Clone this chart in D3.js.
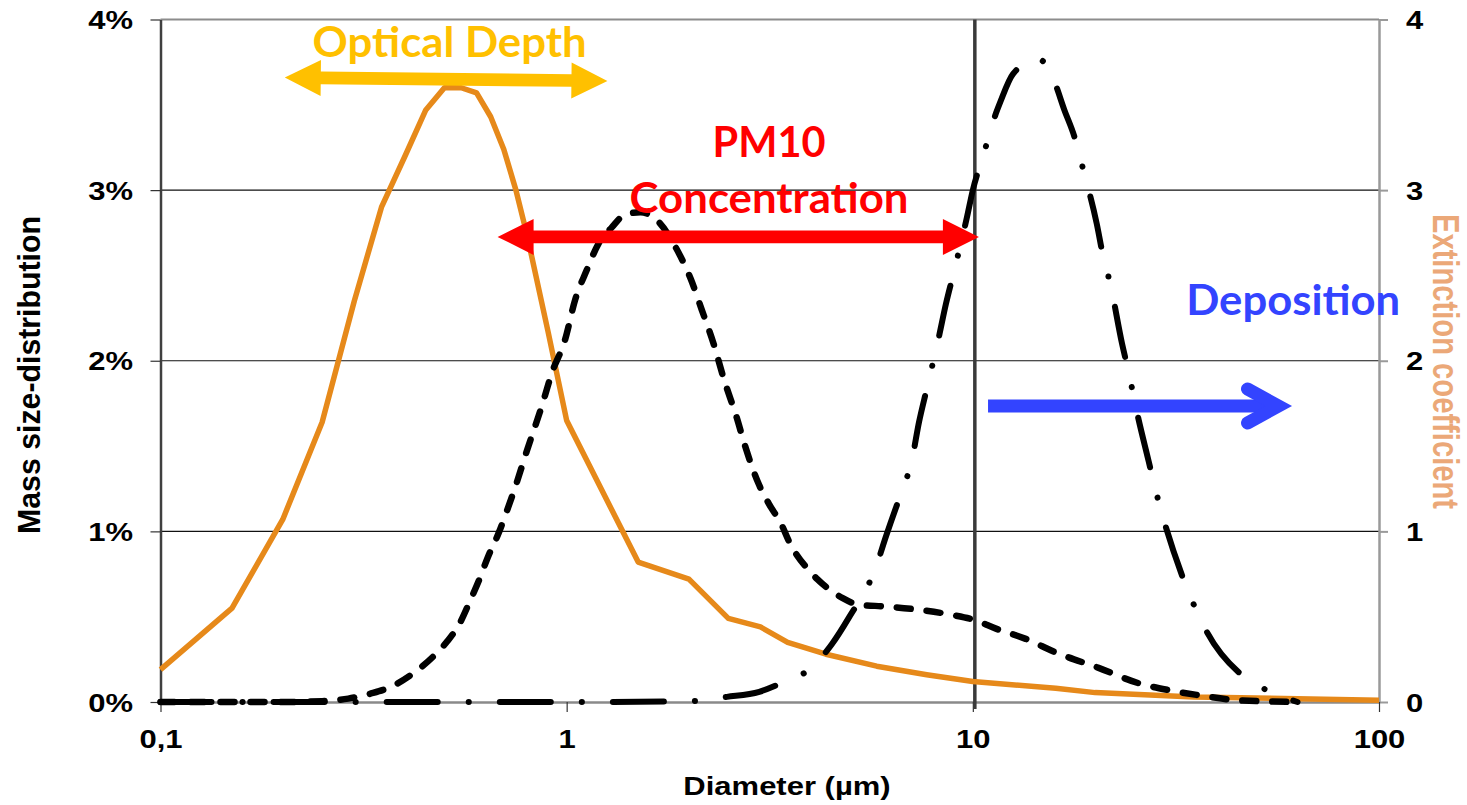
<!DOCTYPE html>
<html>
<head>
<meta charset="utf-8">
<script src="https://cdn.jsdelivr.net/npm/d3@7"></script>
<style>
  body { margin: 0; background: #fff; }
  svg { display: block; }
</style>
</head>
<body>
<div id="chart"></div>
<script>
// Axis ticks
const xTickValues = [0.1, 1, 10, 100];
const xTickLabels = ['0,1', '1', '10', '100'];
const yTickValues = [0, 1, 2, 3, 4];
const gridValues = [1, 2, 3];

// Extinction coefficient (orange, straight segments) [diameter um, value]
const extinction = [
    [0.1, 0.19], [0.15, 0.55], [0.2, 1.07], [0.25, 1.64], [0.3, 2.35], [0.35, 2.9],
    [0.4, 3.2], [0.45, 3.47], [0.5, 3.6], [0.55, 3.6], [0.6, 3.57], [0.65, 3.43],
    [0.7, 3.24], [0.75, 3.0], [0.8, 2.73], [0.9, 2.17], [1, 1.65], [1.5, 0.82],
    [2, 0.72], [2.5, 0.49], [3, 0.44], [3.5, 0.35], [4.35, 0.28], [5.8, 0.21],
    [7.7, 0.16], [10, 0.12], [16, 0.08], [20, 0.055], [35, 0.03], [100, 0.01]
];

// Mass size-distribution, fine mode (dashed) [diameter um, %]
const massFine = [
    [0.1, 0], [0.2, 0], [0.25, 0.005], [0.29, 0.02], [0.33, 0.05], [0.37, 0.09],
    [0.42, 0.17], [0.48, 0.29], [0.51, 0.36], [0.545, 0.46], [0.58, 0.6], [0.61, 0.72],
    [0.64, 0.85], [0.68, 0.99], [0.71, 1.11], [0.74, 1.23], [0.8, 1.48], [0.87, 1.74],
    [0.92, 1.93], [0.99, 2.12], [1.05, 2.36], [1.12, 2.53], [1.2, 2.69], [1.29, 2.78],
    [1.4, 2.86], [1.52, 2.87], [1.69, 2.81], [1.85, 2.67], [2.02, 2.48], [2.15, 2.3],
    [2.3, 2.1], [2.44, 1.89], [2.62, 1.67], [2.75, 1.5], [2.98, 1.27], [3.15, 1.16],
    [3.38, 1.04], [3.53, 0.94], [3.69, 0.86], [3.89, 0.79], [4.14, 0.72], [4.43, 0.66],
    [4.77, 0.61], [5.25, 0.57], [6.1, 0.56], [7.4, 0.54], [8.9, 0.51], [10.1, 0.48],
    [11.4, 0.43], [13.5, 0.37], [16, 0.29], [20.4, 0.2], [25.6, 0.11], [30.3, 0.07],
    [36, 0.04], [45, 0.01], [63, 0]
];

// Mass size-distribution, coarse mode (dash-dot) [diameter um, %]
const massCoarse = [
    [0.1, 0], [0.5, 0], [1, 0], [2, 0.005], [2.48, 0.03], [2.98, 0.06], [3.37, 0.11],
    [4.0, 0.2], [4.5, 0.34], [4.94, 0.49], [5.77, 0.79], [6.11, 0.97], [6.47, 1.14],
    [6.85, 1.3], [7.08, 1.42], [7.37, 1.64], [7.71, 1.84], [8.25, 2.14], [8.58, 2.33],
    [8.98, 2.52], [9.67, 2.84], [10, 3.0], [10.6, 3.2], [11.4, 3.45], [11.7, 3.52],
    [12.55, 3.68], [14.4, 3.77], [15.1, 3.74], [15.8, 3.65], [16.8, 3.47], [17.8, 3.31],
    [18.65, 3.13], [20.2, 2.8], [20.9, 2.62], [21.8, 2.45], [23.3, 2.1], [24.2, 1.93],
    [25.4, 1.69], [27.1, 1.41], [28.2, 1.24], [32.7, 0.745], [35, 0.57], [37.7, 0.41],
    [46.4, 0.15], [54, 0.06], [63, 0]
];

// PM10 cut-off
const cutOff = 10;

// Annotations (positions in data units)
const doubleArrows = [
    { from: [0.2023, 3.66], to: [1.26, 3.64], color: '#FFC000' },
    { from: [0.676, 2.726], to: [10.35, 2.726], color: '#FF0000' }
];
const depositionArrow = { from: [10.9, 1.735], to: [60.9, 1.735], color: '#3344FF' };
const labels = [
    { text: 'Optical Depth', x: 0.515, y: 3.78, color: '#FFC000', length: 274 },
    { text: 'PM10', x: 3.15, y: 3.195, color: '#FF0000', length: 113 },
    { text: 'Concentration', x: 3.15, y: 2.866, color: '#FF0000', length: 279 },
    { text: 'Deposition', x: 61.5, y: 2.268, color: '#3344FF', length: 214 }
];

const W = 1467, H = 805;
const plot = { left: 160.5, right: 1379, top: 19.5, bottom: 702 };
const stretch = 1.24;
const axisFont = '"Liberation Sans", Arial, sans-serif';

const x = d3.scaleLog().domain([0.1, 100]).range([plot.left, plot.right]);
const y = d3.scaleLinear().domain([0, 4]).range([plot.bottom, plot.top]);
const y2 = d3.scaleLinear().domain([0, 4]).range([plot.bottom, plot.top]);

const svg = d3.select('#chart').append('svg')
    .attr('width', W)
    .attr('height', H);

// Gridlines
svg.append('g')
    .selectAll('line')
    .data(gridValues)
    .enter().append('line')
    .attr('x1', plot.left).attr('x2', plot.right)
    .attr('y1', d => y(d)).attr('y2', d => y(d))
    .style('stroke', '#111')
    .style('stroke-width', 1.2);

svg.append('line')
    .attr('x1', plot.left).attr('x2', plot.right)
    .attr('y1', y(4)).attr('y2', y(4))
    .style('stroke', '#8c8c8c')
    .style('stroke-width', 2);

// Shared style for the stretched axis labels
function styleTickText(sel) {
    sel.attr('transform', `scale(${stretch},1)`)
        .style('font-family', axisFont)
        .style('font-weight', 'bold')
        .style('font-size', '25px')
        .style('fill', '#000');
}

// Left axis
const gLeft = svg.append('g')
    .attr('transform', `translate(${plot.left},0)`)
    .call(d3.axisLeft(y).tickValues(yTickValues).tickSize(10).tickSizeOuter(0)
        .tickFormat(d => d + '%'));
gLeft.select('.domain').style('stroke', '#404040').style('stroke-width', 2.5);
gLeft.selectAll('.tick line').style('stroke', '#333').style('stroke-width', 1.2);
gLeft.selectAll('.tick text')
    .attr('x', -27.5 / stretch)
    .attr('dy', '0.36em')
    .call(styleTickText);

// Right axis
const gRight = svg.append('g')
    .attr('transform', `translate(${plot.right},0)`)
    .call(d3.axisRight(y2).tickValues(yTickValues).tickSize(9).tickSizeOuter(0)
        .tickFormat(d3.format('d')));
gRight.select('.domain').style('stroke', '#9a9a9a').style('stroke-width', 2.5);
gRight.selectAll('.tick line').style('stroke', '#9a9a9a').style('stroke-width', 2);
gRight.selectAll('.tick text')
    .attr('x', 27 / stretch)
    .attr('dy', '0.36em')
    .call(styleTickText);

// Bottom axis
const gBottom = svg.append('g')
    .attr('transform', `translate(0,${plot.bottom})`)
    .call(d3.axisBottom(x).tickValues(xTickValues).tickSize(10).tickSizeOuter(0)
        .tickFormat((d, i) => xTickLabels[i]));
gBottom.select('.domain').style('stroke', '#8a8a8a').style('stroke-width', 2.5);
gBottom.selectAll('.tick line').style('stroke', '#333').style('stroke-width', 1.2);
gBottom.selectAll('.tick text')
    .attr('y', 46)
    .attr('dy', 0)
    .call(styleTickText);

// Axis titles
svg.append('text')
    .attr('transform', `translate(787,795) scale(${stretch},1)`)
    .attr('text-anchor', 'middle')
    .style('font-family', axisFont)
    .style('font-weight', 'bold')
    .style('font-size', '25px')
    .text('Diameter (µm)');

svg.append('text')
    .attr('transform', `translate(40,375) scale(${stretch},1) rotate(-90)`)
    .attr('text-anchor', 'middle')
    .attr('textLength', 318)
    .attr('lengthAdjust', 'spacingAndGlyphs')
    .style('font-family', axisFont)
    .style('font-weight', 'bold')
    .style('font-size', '26px')
    .text('Mass size-distribution');

svg.append('text')
    .attr('transform', `translate(1433,361.5) scale(${stretch},1) rotate(90)`)
    .attr('text-anchor', 'middle')
    .style('font-family', axisFont)
    .style('font-weight', 'bold')
    .style('font-size', '29.2px')
    .style('fill', '#EBA878')
    .text('Extinction coefficient');

// PM10 cut-off line
svg.append('line')
    .attr('x1', x(cutOff) + 2).attr('x2', x(cutOff) + 2)
    .attr('y1', plot.top).attr('y2', plot.bottom + 7)
    .style('stroke', '#3a3a3a')
    .style('stroke-width', 3.5);

// Curves
const lineSmooth = d3.line().x(d => x(d[0])).y(d => y(d[1])).curve(d3.curveMonotoneX);
const lineRight = d3.line().x(d => x(d[0])).y(d => y2(d[1]));

svg.append('path')
    .datum(extinction)
    .attr('d', lineRight)
    .style('fill', 'none')
    .style('stroke', '#E6891A')
    .style('stroke-width', 5.5)
    .style('stroke-linejoin', 'round');

svg.append('path')
    .datum(massFine)
    .attr('d', lineSmooth)
    .style('fill', 'none')
    .style('stroke', '#000')
    .style('stroke-width', 6.5)
    .style('stroke-linecap', 'round')
    .style('stroke-dasharray', '14 16');

svg.append('path')
    .datum(massCoarse)
    .attr('d', lineSmooth)
    .style('fill', 'none')
    .style('stroke', '#000')
    .style('stroke-width', 6)
    .style('stroke-linecap', 'round')
    .style('stroke-dasharray', '51 31 0.1 31');

// Double block arrows
function blockArrow(p1, p2, L, Hh, h) {
    const dx = p2[0] - p1[0], dy = p2[1] - p1[1];
    const len = Math.hypot(dx, dy);
    const u = [dx / len, dy / len], n = [-u[1], u[0]];
    const pt = (p, a, b) => [p[0] + a * u[0] + b * n[0], p[1] + a * u[1] + b * n[1]];
    return [
        p1, pt(p1, L, Hh), pt(p1, L, h), pt(p2, -L, h), pt(p2, -L, Hh),
        p2, pt(p2, -L, -Hh), pt(p2, -L, -h), pt(p1, L, -h), pt(p1, L, -Hh)
    ];
}

svg.append('g')
    .selectAll('path')
    .data(doubleArrows)
    .enter().append('path')
    .attr('d', d => 'M' + blockArrow(
        [x(d.from[0]), y(d.from[1])], [x(d.to[0]), y(d.to[1])], 36, 18, 6.3
    ).join('L') + 'Z')
    .style('fill', d => d.color);

// Deposition arrow
const dFrom = [x(depositionArrow.from[0]), y(depositionArrow.from[1])];
const dTip = [x(depositionArrow.to[0]), y(depositionArrow.to[1])];
const vertex = [dTip[0] - 13, dTip[1]];
svg.append('line')
    .attr('x1', dFrom[0]).attr('y1', dFrom[1])
    .attr('x2', vertex[0]).attr('y2', vertex[1])
    .style('stroke', depositionArrow.color)
    .style('stroke-width', 13);
svg.append('path')
    .attr('d', `M${vertex[0] - 31},${vertex[1] - 17}L${vertex[0]},${vertex[1]}L${vertex[0] - 31},${vertex[1] + 17}`)
    .style('fill', 'none')
    .style('stroke', depositionArrow.color)
    .style('stroke-width', 13)
    .style('stroke-linecap', 'round')
    .style('stroke-linejoin', 'miter');

// Annotation labels
svg.append('g')
    .selectAll('text')
    .data(labels)
    .enter().append('text')
    .attr('x', d => x(d.x))
    .attr('y', d => y(d.y))
    .attr('text-anchor', 'middle')
    .attr('textLength', d => d.length)
    .attr('lengthAdjust', 'spacingAndGlyphs')
    .style('font-family', 'Lato, "Open Sans", sans-serif')
    .style('font-weight', 'bold')
    .style('font-size', '42px')
    .style('fill', d => d.color)
    .text(d => d.text);
</script>
</body>
</html>
